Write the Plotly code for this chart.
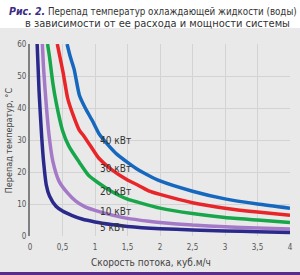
import plotly.graph_objects as go

# ---- data ----
x_5 = [0.11, 0.14, 0.18, 0.21, 0.25, 0.3, 0.4, 0.5, 0.65, 0.8, 1.0, 1.25, 1.5, 2.0, 2.5, 3.0, 3.5, 4.0]
y_5 = [60, 45, 31, 23, 16, 12.5, 9.3, 7.8, 6.4, 5.3, 4.4, 3.6, 3.0, 2.3, 1.9, 1.6, 1.3, 1.1]

x_10 = [0.19, 0.21, 0.25, 0.29, 0.35, 0.45, 0.58, 0.7, 0.84, 1.0, 1.25, 1.5, 1.825, 2.0, 2.5, 3.0, 3.5, 4.0]
y_10 = [60, 52, 41, 32, 23.5, 17, 13.4, 11, 9.2, 8.0, 6.6, 5.5, 4.6, 4.2, 3.4, 2.9, 2.5, 2.2]

x_20 = [0.27, 0.3, 0.35, 0.4, 0.5, 0.6, 0.76, 0.9, 1.06, 1.25, 1.5, 1.67, 2.0, 2.5, 3.0, 3.5, 4.0]
y_20 = [60, 56, 48, 42, 33, 28, 23, 19, 16.5, 14, 11.5, 10.5, 8.7, 7.0, 5.8, 5.0, 4.2]

x_30 = [0.42, 0.46, 0.51, 0.58, 0.66, 0.76, 0.82, 1.0, 1.06, 1.25, 1.5, 1.67, 1.825, 2.0, 2.5, 3.0, 3.5, 4.0]
y_30 = [60, 56, 51, 43, 38, 33, 31.5, 26, 24.3, 20.8, 17.5, 15.8, 14.1, 13.0, 10.4, 8.7, 7.5, 6.5]

x_40 = [0.57, 0.62, 0.68, 0.76, 0.85, 0.96, 1.06, 1.2, 1.34, 1.5, 1.67, 1.825, 2.0, 2.5, 3.0, 3.5, 4.0]
y_40 = [60, 56, 52, 44, 40, 36, 32, 28.5, 25.5, 23, 20.6, 18.9, 17.2, 14, 11.6, 10, 8.7]

series_names = ["40 кВт", "30 кВт", "20 кВт", "10 кВт", "5 кВт"]
label_y = [30, 21, 14, 7.8, 2.8]
label_x = 1.05

FONT = "DejaVu Sans Condensed, Liberation Sans Narrow, Liberation Sans, sans-serif"
colors = ["#1668be", "#e8262a", "#17a64a", "#a479c8", "#2b2a8c"]
xs = [x_40, x_30, x_20, x_10, x_5]
ys = [y_40, y_30, y_20, y_10, y_5]

fig = go.Figure()
for name, x, y, c in zip(series_names, xs, ys, colors):
    fig.add_trace(go.Scatter(x=x, y=y, mode="lines", name=name,
                             line=dict(color=c, width=3.5, shape="spline", smoothing=0.6),
                             hoverinfo="skip"))

annotations = []
for name, ly in zip(series_names, label_y):
    annotations.append(dict(x=label_x, y=ly, xref="x", yref="y", text=name, showarrow=False,
                            xanchor="left", yanchor="middle",
                            font=dict(family=FONT, size=10, color="#333333")))

# title
annotations.append(dict(x=-0.0875, y=1.172, xref="paper", yref="paper",
                        text="<b><i><span style='color:#3d2b84;font-size:10.5px'>Рис. 2.</span></i></b> Перепад температур охлаждающей жидкости (воды)",
                        showarrow=False, xanchor="left", yanchor="middle",
                        font=dict(family=FONT, size=9.7, color="#333333")))
annotations.append(dict(x=1.0076, y=1.109, xref="paper", yref="paper",
                        text="в зависимости от ее расхода и мощности системы",
                        showarrow=False, xanchor="right", yanchor="middle",
                        font=dict(family=FONT, size=11, color="#333333")))
# axis titles
annotations.append(dict(x=-0.0798, y=0.5, xref="paper", yref="paper",
                        text="Перепад температур, °С", textangle=-90,
                        showarrow=False, xanchor="center", yanchor="middle",
                        font=dict(family=FONT, size=9, color="#444444")))
annotations.append(dict(x=0.464, y=-0.1406, xref="paper", yref="paper",
                        text="Скорость потока, куб.м/ч",
                        showarrow=False, xanchor="center", yanchor="middle",
                        font=dict(family=FONT, size=10, color="#444444")))

shapes = [
    dict(type="rect", xref="paper", yref="paper", x0=-0.3, x1=1.3, y0=1.083, y1=1.3,
         fillcolor="white", line=dict(width=0), layer="below"),
    dict(type="rect", xref="paper", yref="paper", x0=-0.3, x1=1.3, y0=-0.25, y1=-0.1875,
         fillcolor="#5a2d8a", line=dict(width=0), layer="below"),
]

fig.update_layout(
    width=300, height=275,
    margin=dict(l=30, r=7, t=44, b=39),
    paper_bgcolor="#e9e9e9", plot_bgcolor="#e9e9e9",
    showlegend=False,
    separators=", ",
    annotations=annotations,
    shapes=shapes,
    font=dict(family=FONT, size=9, color="#555555"),
)
fig.update_xaxes(range=[0, 4], dtick=0.5, tick0=0, showgrid=True, gridcolor="#d3d3d3", gridwidth=1,
                 zeroline=False, showline=False, ticks="", ticklen=0, ticklabelstandoff=5,
                 tickfont=dict(family=FONT, size=8, color="#555555"))
fig.update_yaxes(range=[0, 60], dtick=10, tick0=0, showgrid=True, gridcolor="#d3d3d3", gridwidth=1,
                 zeroline=False, showline=True, linecolor="#808080", linewidth=2,
                 ticks="", tickfont=dict(family=FONT, size=8, color="#555555"))

fig.write_html("out.html")
